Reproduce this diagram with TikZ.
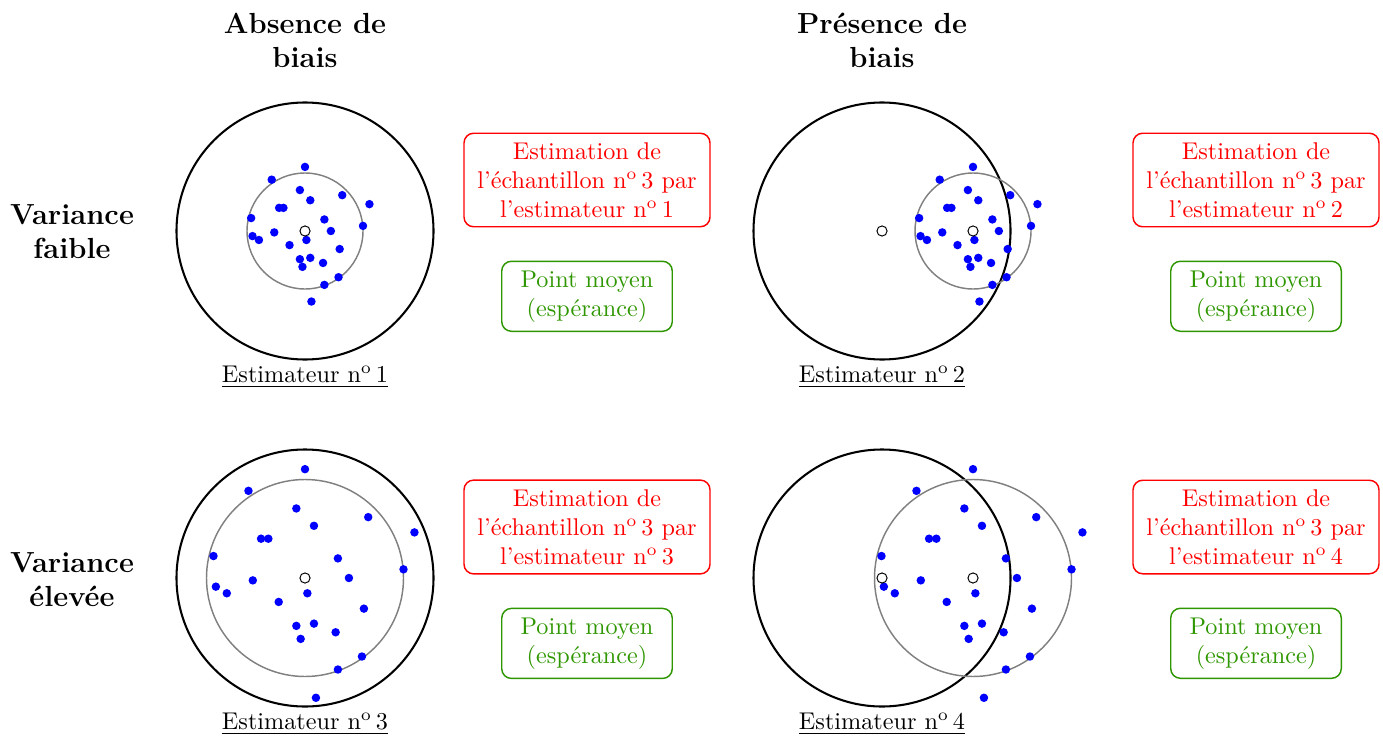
\documentclass[tikz,border=0pt]{standalone}
\usepackage{tikz}
\usepackage{xcolor}
\definecolor{estred}{HTML}{FF0000}
\definecolor{meangreen}{HTML}{2E9600}
\definecolor{shotblue}{HTML}{0000FF}
\usetikzlibrary{positioning, calc}

% same 25 shots for every estimator, in units of the spread radius
\newcommand{\shotlist}{0/1.105, -0.574/0.885, -0.088/0.706, 0.642/0.618, 0.091/0.530,
  1.111/0.463, -0.446/0.399, -0.372/0.399, -0.929/0.223, 0.334/0.199,
  1.0/0.088, -0.530/-0.024, 0.446/0, -0.905/-0.088, -0.794/-0.155,
  0.024/-0.155, -0.267/-0.243, 0.598/-0.311, -0.088/-0.486, 0.091/-0.463,
  -0.044/-0.618, 0.311/-0.551, 0.578/-0.797, 0.334/-0.929, 0.111/-1.216}

\begin{document}
\begin{tikzpicture}[
        x=0.4132pt, y=0.4132pt,
        target/.style={draw=black, line width=0.85pt},
        spread/.style={draw=black!50, line width=0.6pt},
        shot/.style={fill=shotblue},
        mean/.style={draw=black, fill=white, line width=0.4pt},
        head/.style={font=\large\bfseries, align=center},
        caption/.style={font=\normalsize},
        estbox/.style={
            rectangle,
            rounded corners=4pt,
            draw=estred,
            text=estred,
            line width=0.6pt,
            align=center,
            inner xsep=5.5pt,
            inner ysep=3.8pt
        },
        meanbox/.style={
            rectangle,
            rounded corners=4pt,
            draw=meangreen,
            text=meangreen,
            line width=0.6pt,
            align=center,
            inner xsep=7.8pt,
            inner ysep=3.8pt
        }
    ]
    \useasboundingbox (0,0) rectangle (1383,738);

    % Column and row headings
    \node[head] (col_nobias) at (305,698) {Absence de\\biais};
    \node[head] (col_bias) at (882,698) {Présence de\\biais};
    \node[head] (row_low) at (72,506) {Variance\\faible};
    \node[head] (row_high) at (72,158) {Variance\\élevée};

    % Target centres (true value) and mean points
    \coordinate (T1) at (305,507);
    \coordinate (T2) at (882,507);
    \coordinate (M2) at (973,507);
    \coordinate (T3) at (305,160);
    \coordinate (T4) at (882,160);
    \coordinate (M4) at (973,160);

    % Estimator 1: no bias, low variance
    \draw[target] (T1) circle (128.5);
    \draw[spread] (T1) circle (58);
    \begin{scope}[shift={(T1)}]
        \foreach \a/\b in \shotlist
            \fill[shot] (\a*58,\b*58) circle (1.75pt);
    \end{scope}
    \draw[mean] (T1) circle (2.1pt);
    \node[caption] (cap1) at (305,361) {\underline{Estimateur n\textsuperscript{o}\,1}};

    % Estimator 2: bias, low variance
    \draw[target] (T2) circle (128.5);
    \draw[spread] (M2) circle (58);
    \begin{scope}[shift={(M2)}]
        \foreach \a/\b in \shotlist
            \fill[shot] (\a*58,\b*58) circle (1.75pt);
    \end{scope}
    \draw[mean] (T2) circle (2.1pt);
    \draw[mean] (M2) circle (2.1pt);
    \node[caption] (cap2) at (882,361) {\underline{Estimateur n\textsuperscript{o}\,2}};

    % Estimator 3: no bias, high variance
    \draw[target] (T3) circle (128.5);
    \draw[spread] (T3) circle (98.5);
    \begin{scope}[shift={(T3)}]
        \foreach \a/\b in \shotlist
            \fill[shot] (\a*98.5,\b*98.5) circle (1.75pt);
    \end{scope}
    \draw[mean] (T3) circle (2.1pt);
    \node[caption] (cap3) at (305,14) {\underline{Estimateur n\textsuperscript{o}\,3}};

    % Estimator 4: bias, high variance
    \draw[target] (T4) circle (128.5);
    \draw[spread] (M4) circle (98.5);
    \begin{scope}[shift={(M4)}]
        \foreach \a/\b in \shotlist
            \fill[shot] (\a*98.5,\b*98.5) circle (1.75pt);
    \end{scope}
    \draw[mean] (T4) circle (2.1pt);
    \draw[mean] (M4) circle (2.1pt);
    \node[caption] (cap4) at (882,14) {\underline{Estimateur n\textsuperscript{o}\,4}};

    % Legends
    \node[estbox] (est1) at (587,558) {Estimation de\\l'échantillon n\textsuperscript{o}\,3 par\\l'estimateur n\textsuperscript{o}\,1};
    \node[meanbox, below=0.48cm of est1] (mean1) {Point moyen\\(espérance)};
    \node[estbox] (est2) at (1256,558) {Estimation de\\l'échantillon n\textsuperscript{o}\,3 par\\l'estimateur n\textsuperscript{o}\,2};
    \node[meanbox, below=0.48cm of est2] (mean2) {Point moyen\\(espérance)};
    \node[estbox] (est3) at (587,211) {Estimation de\\l'échantillon n\textsuperscript{o}\,3 par\\l'estimateur n\textsuperscript{o}\,3};
    \node[meanbox, below=0.48cm of est3] (mean3) {Point moyen\\(espérance)};
    \node[estbox] (est4) at (1256,211) {Estimation de\\l'échantillon n\textsuperscript{o}\,3 par\\l'estimateur n\textsuperscript{o}\,4};
    \node[meanbox, below=0.48cm of est4] (mean4) {Point moyen\\(espérance)};

\end{tikzpicture}
\end{document}
